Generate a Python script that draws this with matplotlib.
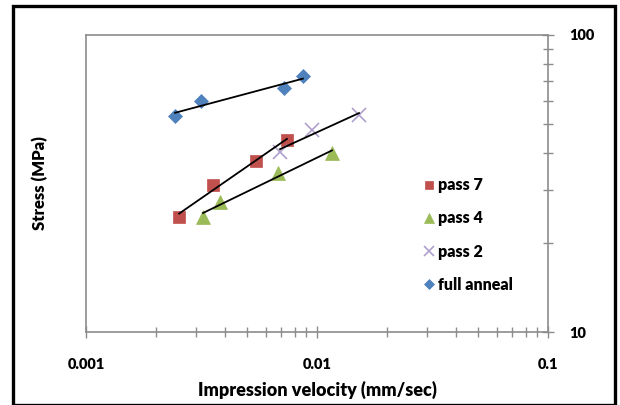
import numpy as np
import matplotlib
matplotlib.use("Agg")
import matplotlib.pyplot as plt
from matplotlib.patches import Rectangle
from matplotlib.ticker import LogLocator, NullFormatter, FixedLocator

plt.rcParams['font.family'] = ['Lato', 'DejaVu Sans']

# data (log-log)
p7_v = [0.00253, 0.00355, 0.00544, 0.00741]
p7_s = [24.4, 31.3, 37.6, 44.3]
p4_v = [0.00321, 0.00380, 0.00678, 0.01161]
p4_s = [24.4, 27.4, 34.3, 40.1]
p2_v = [0.00692, 0.00951, 0.0152]
p2_s = [40.4, 47.9, 53.8]
fa_v = [0.00243, 0.00315, 0.00719, 0.00869]
fa_s = [53.4, 59.9, 66.3, 72.8]

W, H = 620, 405
fig = plt.figure(figsize=(W / 100, H / 100), dpi=100)
ax = fig.add_axes([86 / W, 1 - 332 / H, (548 - 86) / W, (332 - 35) / H])

gray = '#8c8c8c'

# black frame around the chart
fig.patches.append(Rectangle((13 / W, 0.0), (615 - 13) / W, 1 - 6 / H,
                             transform=fig.transFigure, fill=False,
                             edgecolor='black', lw=2.4))

series = [
    ('pass 7', p7_v, p7_s, 's', '#C0504D', 8.5),
    ('pass 4', p4_v, p4_s, '^', '#9BBB59', 9.5),
    ('pass 2', p2_v, p2_s, 'x', '#B09FCC', 10),
    ('full anneal', fa_v, fa_s, 'D', '#4F81BD', 7),
]

for name, v, s, mk, col, ms in series:
    ax.plot(v, s, linestyle='none', marker=mk, color=col, markersize=ms,
            markeredgewidth=1.2 if mk == 'x' else 0.5, label=name, zorder=3)
    # power-law trend line
    lv, ls = np.log10(v), np.log10(s)
    k, b = np.polyfit(lv, ls, 1)
    xs = np.array([min(lv), max(lv)])
    ax.plot(10 ** xs, 10 ** (k * xs + b), color='black', lw=1.3, zorder=4)

ax.set_xscale('log')
ax.set_yscale('log')
ax.set_xlim(0.001, 0.1)
ax.set_ylim(10, 100)

ax.xaxis.set_major_locator(FixedLocator([0.001, 0.01, 0.1]))
ax.xaxis.set_minor_locator(LogLocator(base=10, subs=np.arange(2, 10)))
ax.yaxis.set_major_locator(FixedLocator([10, 100]))
ax.yaxis.set_minor_locator(LogLocator(base=10, subs=np.arange(2, 10)))
ax.xaxis.set_minor_formatter(NullFormatter())
ax.yaxis.set_minor_formatter(NullFormatter())
ax.set_xticklabels(['0.001', '0.01', '0.1'])
ax.set_yticklabels(['10', '100'])

ax.yaxis.tick_right()
for sp in ax.spines.values():
    sp.set_color(gray)
    sp.set_linewidth(1.2)

ax.tick_params(axis='both', which='major', direction='inout', length=9,
               width=1.0, color=gray, labelsize=10.5, pad=14)
ax.tick_params(axis='y', which='major', pad=11)
ax.tick_params(axis='both', which='minor', direction='inout', length=7,
               width=1.0, color=gray)
ax.tick_params(axis='y', which='both', right=True, left=False)
for lab in ax.get_xticklabels() + ax.get_yticklabels():
    lab.set_fontweight('heavy')

ax.set_xlabel('Impression velocity (mm/sec)', fontsize=13, fontweight='heavy',
              labelpad=7)
fig.text(40 / W, 1 - 183 / H, 'Stress (MPa)', rotation=90, fontsize=12,
         fontweight='heavy', ha='center', va='center')

leg = ax.legend(loc='upper left', bbox_to_anchor=(0.711, 0.548), frameon=False,
                fontsize=11.5, labelspacing=1.08, handlelength=0.8,
                handletextpad=0.2, markerscale=0.75, borderpad=0)
for t in leg.get_texts():
    t.set_fontweight('heavy')

fig.savefig('out.png', dpi=100)
